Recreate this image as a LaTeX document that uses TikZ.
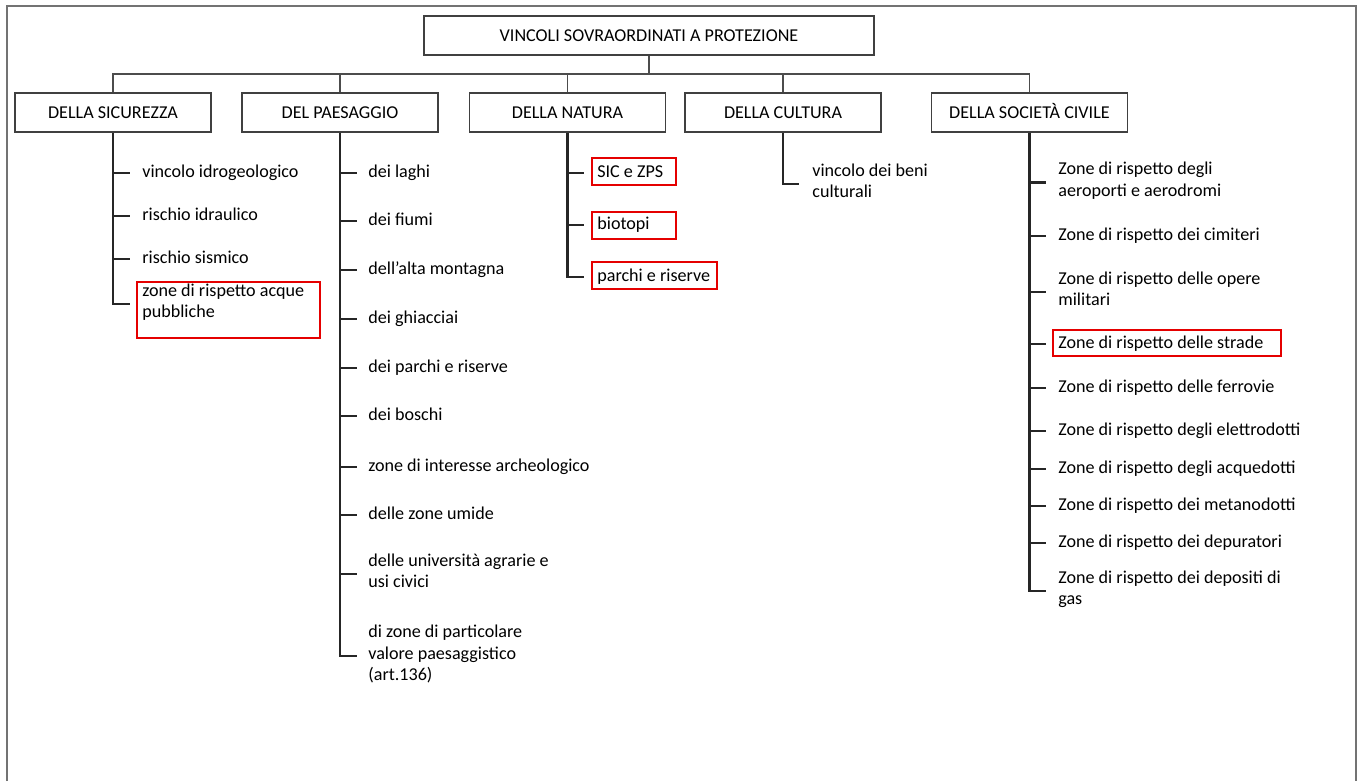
\documentclass[tikz,border=0pt]{standalone}
\usepackage{fontspec}
\setmainfont{Carlito}
\begin{document}
\begin{tikzpicture}[x=0.02cm,y=-0.02cm,
  every node/.style={font=\fontsize{10.3}{12.2}\selectfont, text=black},
  catbox/.style={draw=black!75, line width=1pt, minimum width=3.92cm, minimum height=0.78cm, inner sep=0pt, text height=8.6pt, text depth=2pt},
  item/.style={anchor=west, inner sep=0pt, align=left, execute at begin node=\strut},
  bus/.style={draw=black!70, line width=0.9pt},
  branch/.style={draw=black!85, line width=1.3pt},
  redbox/.style={draw=red!90!black, line width=1.3pt},
  frame/.style={draw=black!55, line width=1.1pt}]
\useasboundingbox (0,0) rectangle (1362,781);
\draw[frame] (7,781) -- (7,6) -- (1356,6) -- (1356,781);

% top
\node[catbox, minimum width=9cm] (top) at (649,35.5) {VINCOLI SOVRAORDINATI A PROTEZIONE};
\coordinate (bus) at (649,74);

% categories
\node[catbox] (s)  at (113,112.5)   {DELLA SICUREZZA};
\node[catbox] (p)  at (340,112.5)   {DEL PAESAGGIO};
\node[catbox] (n)  at (567.5,112.5) {DELLA NATURA};
\node[catbox] (c)  at (783,112.5)   {DELLA CULTURA};
\node[catbox] (sc) at (1029.5,112.5){DELLA SOCIETÀ CIVILE};

\draw[bus] (top.south) -- (bus);
\foreach \k in {s,p,n,c,sc} \draw[bus] (\k.north) |- (bus);

% sicurezza
\node[item] (s1) at (142,173) {vincolo idrogeologico};
\node[item] (s2) at (142,216) {rischio idraulico};
\node[item] (s3) at (142,259) {rischio sismico};
\node[item] (s4) at (142,304) {zone di rispetto acque\\pubbliche\strut};
\draw[redbox] (137,282) rectangle (320,338);

% paesaggio
\node[item] (p1) at (368,173) {dei laghi};
\node[item] (p2) at (368,221) {dei fiumi};
\node[item] (p3) at (368,270) {dell’alta montagna};
\node[item] (p4) at (368,319) {dei ghiacciai};
\node[item] (p5) at (368,368) {dei parchi e riserve};
\node[item] (p6) at (368,416) {dei boschi};
\node[item] (p7) at (368,467) {zone di interesse archeologico};
\node[item] (p8) at (368,515) {delle zone umide};
\node[item] (p9) at (368,574) {delle università agrarie e\\usi civici\strut};
\node[item] (p10) at (368,656) {di zone di particolare\\valore paesaggistico\\(art.136)\strut};

% natura
\node[item] (n1) at (597,173) {SIC e ZPS};
\node[item] (n2) at (597,225) {biotopi};
\node[item] (n3) at (597,277) {parchi e riserve};
\draw[redbox] (592,158) rectangle (676,185);
\draw[redbox] (592,212) rectangle (676,239);
\draw[redbox] (592,262) rectangle (717,289);

% cultura
\node[item] (c1) at (812,184) {vincolo dei beni\\culturali\strut};

% societa civile
\node[item] (sc1) at (1058,182.5) {Zone di rispetto degli\\aeroporti e aerodromi\strut};
\node[item] (sc2) at (1058,236) {Zone di rispetto dei cimiteri};
\node[item] (sc3) at (1058,292) {Zone di rispetto delle opere\\militari\strut};
\node[item] (sc4) at (1058,344) {Zone di rispetto delle strade};
\node[item] (sc5) at (1058,388) {Zone di rispetto delle ferrovie};
\node[item] (sc6) at (1058,431) {Zone di rispetto degli elettrodotti};
\node[item] (sc7) at (1058,469) {Zone di rispetto degli acquedotti};
\node[item] (sc8) at (1058,506) {Zone di rispetto dei metanodotti};
\node[item] (sc9) at (1058,543) {Zone di rispetto dei depuratori};
\node[item] (sc10) at (1058,591) {Zone di rispetto dei depositi di\\gas\strut};
\draw[redbox] (1053,330) rectangle (1281,356);

% branches
\draw[branch] (s.south) |- ([xshift=-0.24cm]s4.west);
\foreach \i in {1,2,3} \draw[branch] (s.south |- s\i.west) -- ([xshift=-0.24cm]s\i.west);
\draw[branch] (p.south) |- ([xshift=-0.22cm]p10.west);
\foreach \i in {1,...,9} \draw[branch] (p.south |- p\i.west) -- ([xshift=-0.22cm]p\i.west);
\draw[branch] (n.south) |- ([xshift=-0.26cm]n3.west);
\foreach \i in {1,2} \draw[branch] (n.south |- n\i.west) -- ([xshift=-0.26cm]n\i.west);
\draw[branch] (c.south) |- ([xshift=-0.26cm]c1.west);
\draw[branch] (sc.south) |- ([xshift=-0.24cm]sc10.west);
\foreach \i in {1,...,9} \draw[branch] (sc.south |- sc\i.west) -- ([xshift=-0.24cm]sc\i.west);
\end{tikzpicture}
\end{document}
